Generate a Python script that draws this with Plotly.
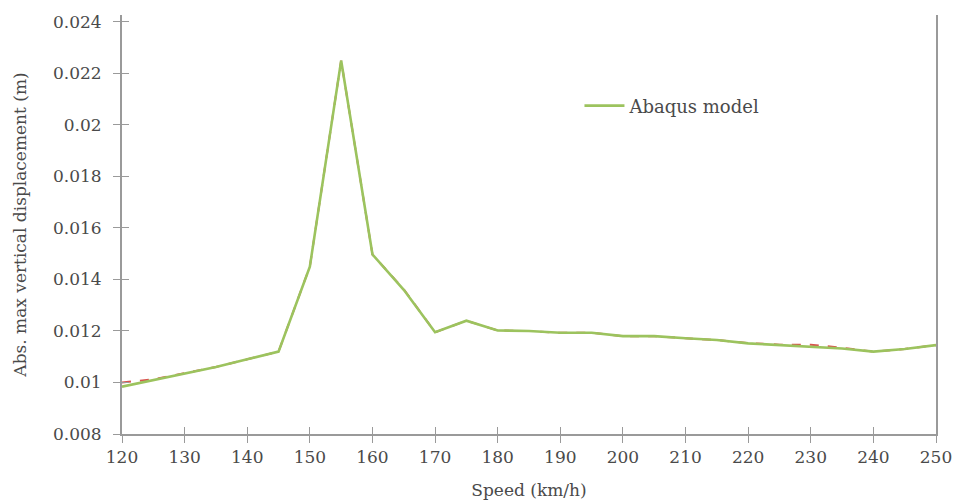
import plotly.graph_objects as go

# Vehicle speed (km/h)
speed = [120, 125, 130, 135, 140, 145, 150, 155, 160, 165, 170, 175, 180, 185,
         190, 195, 200, 205, 210, 215, 220, 225, 230, 235, 240, 245, 250]

# Absolute maximum vertical displacement (m), Abaqus model
abaqus = [0.00984, 0.0101, 0.01036, 0.0106, 0.0109, 0.0112, 0.0145, 0.0225,
          0.01497, 0.0136, 0.01195, 0.0124, 0.01202, 0.0120, 0.01193, 0.01193,
          0.0118, 0.0118, 0.01172, 0.01165, 0.01152, 0.01145, 0.0114, 0.01132,
          0.0112, 0.0113, 0.01145]

# Reference solution (dashed, drawn beneath)
reference = [0.0100, 0.01012, 0.01036, 0.0106, 0.0109, 0.0112, 0.0145, 0.0225,
             0.01497, 0.01362, 0.01195, 0.0124, 0.01202, 0.0120, 0.01193, 0.01193,
             0.0118, 0.0118, 0.01172, 0.01165, 0.01153, 0.01147, 0.01147,
             0.01135, 0.0112, 0.0113, 0.01145]

x_ticks = list(range(120, 251, 10))
y_ticks = [0.008, 0.010, 0.012, 0.014, 0.016, 0.018, 0.020, 0.022, 0.024]
y_tick_text = ["0.008", "0.01", "0.012", "0.014", "0.016", "0.018", "0.02", "0.022", "0.024"]

GREEN = "#9cc35e"
RED = "#d9534f"
AXIS = "#9a9a9a"
TEXT = "#4a4a4a"
FONT = "DejaVu Serif"

fig = go.Figure()
fig.add_trace(go.Scatter(x=speed, y=reference, mode="lines", showlegend=False,
                         line=dict(color=RED, width=2, dash="dash")))
fig.add_trace(go.Scatter(x=speed, y=abaqus, mode="lines", name="Abaqus model",
                         line=dict(color=GREEN, width=2.6)))

x_range = [120, 250]
y_range = [0.008, 0.02427]

fig.update_layout(
    width=958, height=504,
    margin=dict(l=122, r=22, t=15, b=70, autoexpand=False),
    paper_bgcolor="white", plot_bgcolor="white",
    font=dict(family=FONT, size=17, color=TEXT),
    showlegend=True,
    legend=dict(x=0.562, y=0.783, xanchor="left", yanchor="middle",
                bgcolor="rgba(0,0,0,0)", font=dict(family=FONT, size=18, color=TEXT),
                itemwidth=40),
    xaxis=dict(range=x_range, tickvals=x_ticks, showgrid=False, zeroline=False,
               automargin=False,
               showline=True, linecolor=AXIS, linewidth=2,
               ticks="outside", ticklen=7, tickcolor=AXIS, tickwidth=1,
               title=dict(text="Speed (km/h)", standoff=18,
                          font=dict(family=FONT, size=17, color=TEXT)),
               tickfont=dict(family=FONT, size=17, color=TEXT)),
    yaxis=dict(range=y_range, tickvals=y_ticks, ticktext=y_tick_text,
               showgrid=False, zeroline=False, automargin=False,
               showline=True, linecolor=AXIS, linewidth=2, mirror=True,
               ticks="outside", ticklen=7, tickcolor=AXIS, tickwidth=1,
               ticklabelstandoff=8,
               title=dict(text="Abs. max vertical displacement (m)", standoff=22,
                          font=dict(family=FONT, size=17, color=TEXT)),
               tickfont=dict(family=FONT, size=17, color=TEXT)),
    # overlay axes supply the inner half of each tick mark
    xaxis2=dict(range=x_range, tickvals=x_ticks, overlaying="x", side="bottom",
                showticklabels=False, showgrid=False, zeroline=False, automargin=False,
                ticks="inside", ticklen=7, tickcolor=AXIS, tickwidth=1),
    yaxis2=dict(range=y_range, tickvals=y_ticks, overlaying="y", side="left",
                showticklabels=False, showgrid=False, zeroline=False, automargin=False,
                ticks="inside", ticklen=7, tickcolor=AXIS, tickwidth=1),
)

# invisible trace binding the overlay axes
fig.add_trace(go.Scatter(x=[120], y=[0.008], xaxis="x2", yaxis="y2", mode="markers",
                         marker=dict(opacity=0), showlegend=False, hoverinfo="skip"))

fig.write_html("out.html")
